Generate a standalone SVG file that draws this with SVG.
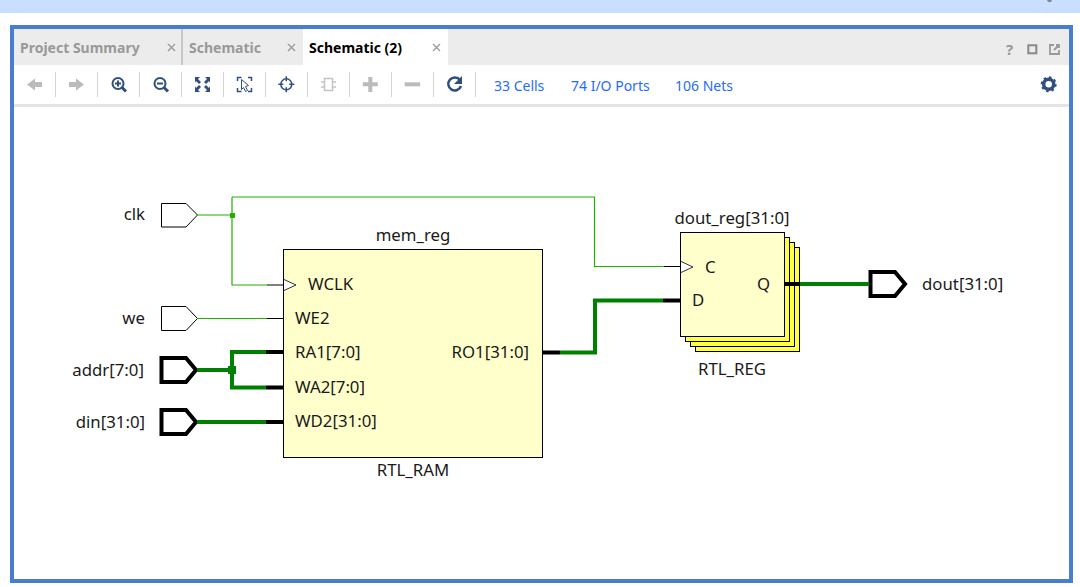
<svg xmlns="http://www.w3.org/2000/svg" width="1080" height="587" viewBox="0 0 1080 587">
<style>
text{font-family:"Noto Sans","Open Sans","Liberation Sans",sans-serif;fill:#1a1a1a;font-size:16.800px}
.tab{font-size:14px;font-weight:700;fill:#999}
.x{stroke:#999;stroke-width:1.300;fill:none}
.sep{stroke:#d4d4d4;stroke-width:1;fill:none}
.link{font-size:14px;fill:#1f6bff}
.ic{fill:none;stroke:#2f4f7f;stroke-width:2}
.dis{fill:#bbb;stroke:none}
.thin{fill:none;stroke:#1fb000;stroke-width:1.200}
.bus{fill:none;stroke:#008000;stroke-width:4}
.pin{fill:none;stroke:#000;stroke-width:1}
.bpin{fill:none;stroke:#000;stroke-width:4}
.port{fill:#fff;stroke:#000;stroke-width:1}
.bport{fill:#fff;stroke:#000;stroke-width:4}
.cell{fill:#ffffcc;stroke:#000;stroke-width:1}
.stack{fill:#ffff44;stroke:#000;stroke-width:1}
.clk{fill:#fff;stroke:#000;stroke-width:.8}
</style>
<rect width="1080" height="587" fill="#fff"/>
<rect width="1080" height="13" fill="#cadeff"/>
<path d="M1047 0h5l-1 2h-3z" fill="#888"/>
<rect x="12" y="27" width="1059" height="554" fill="#fff" stroke="#4a7ccf" stroke-width="4"/>
<g id="tabbar">
<rect x="14" y="29" width="1055" height="36" fill="#ececec"/>
<rect x="181" y="29" width="2" height="36" fill="#c8c8c8"/>
<rect x="303" y="29" width="145" height="36" fill="#fff"/>
<text class="tab" x="20" y="53">Project Summary</text>
<path class="x" d="M168 44l7 7m0-7l-7 7"/>
<text class="tab" x="189" y="53">Schematic</text>
<path class="x" d="M288 44l7 7m0-7l-7 7"/>
<text class="tab" x="309" y="53" style="fill:#000">Schematic (2)</text>
<path class="x" d="M433 44l7 7m0-7l-7 7"/>
<text x="1006" y="55" style="font-size:15px;font-weight:700;fill:#999">?</text>
<rect x="1028.300" y="45.300" width="8" height="8" fill="none" stroke="#888" stroke-width="2"/>
<path d="M1054 45h-4v9h9v-4M1054 50l5-5m-3 0h3v3" fill="none" stroke="#999" stroke-width="1.800"/>
</g>
<g id="toolbar">
<rect x="14" y="104" width="1055" height="3" fill="#e4e4e4"/>
<path class="sep" d="M55.500 72v25M97.500 72v25M139.500 72v25M181.500 72v25M223.500 72v25M265.500 72v25M307.500 72v25M349.500 72v25M391.500 72v25M433.500 72v25M475.500 72v25"/>
<path class="dis" d="M27 84.500l8-6v3.500h7v5h-7v3.500z"/>
<path class="dis" d="M84 84.500l-8-6v3.500h-7v5h7v3.500z"/>
<circle class="ic" cx="118" cy="83.500" r="5.500"/><path class="ic" d="M115 83.500h6M118 80.500v6"/><path d="M122 87.500l4 4" stroke="#2f4f7f" stroke-width="3"/>
<circle class="ic" cx="160" cy="83.500" r="5.500"/><path class="ic" d="M157 83.500h6"/><path d="M164 87.500l4 4" stroke="#2f4f7f" stroke-width="3"/>
<path d="M195 77h5l-2 2 3 3-2 2-3-3-1 2zM210 77h-5l2 2-3 3 2 2 3-3 1 2zM195 92h5l-2-2 3-3-2-2-3 3-1-2zM210 92h-5l2-2-3-3 2-2 3 3 1-2z" fill="#2f4f7f"/>
<path d="M237.500 81v-3.500h4M248 77.500h3.500v3.500M237.500 88v3.500h4M248 91.500h3.500v-3.500" fill="none" stroke="#2f4f7f" stroke-width="1.500"/>
<path d="M241.500 79.500l7 6-3 1 2 4-2 1-2-4-2 2z" fill="#fff" stroke="#2f4f7f"/>
<circle cx="286.300" cy="84.300" r="5.500" fill="none" stroke="#2f4f7f" stroke-width="1.500"/><path d="M286.300 76.300v5M286.300 87.300v5M278.300 84.300h5M289.300 84.300h5" stroke="#2f4f7f" stroke-width="1.500"/>
<rect x="324.500" y="78.500" width="8" height="12" fill="none" stroke="#c4c4c4" stroke-width="1.500"/><path d="M321 82h3.500M321 87h3.500M332.500 82h3.500M332.500 87h3.500" stroke="#c4c4c4" stroke-width="1.500"/>
<path class="dis" d="M368.300 77h4v5.300h5.500v4h-5.500v5.700h-4v-5.700h-5.500v-4h5.500z"/>
<rect class="dis" x="404.700" y="82.300" width="15.500" height="4"/>
<path d="M460 80a6.500 6.500 0 1 0 1 6" fill="none" stroke="#2f4f7f" stroke-width="2.500"/><path d="M462 76v8h-8z" fill="#2f4f7f"/>
<text class="link" x="494" y="90.500">33 Cells</text>
<text class="link" x="571" y="90.500">74 I/O Ports</text>
<text class="link" x="675" y="90.500">106 Nets</text>
<circle cx="1048.700" cy="84.300" r="5" fill="none" stroke="#2f4f7f" stroke-width="3.500"/>
<circle cx="1048.700" cy="84.300" r="7" fill="none" stroke="#2f4f7f" stroke-width="2" stroke-dasharray="2.500 3"/>
</g>
<g id="clk"><text x="145" y="220" text-anchor="end">clk</text><path class="port" d="M161.500 203.500H186L197.500 215L186 227H161.500z"/></g>
<g id="we"><text x="145" y="323.500" text-anchor="end">we</text><path class="port" d="M161.500 306.500H186L197.500 318.500L186 330.500H161.500z"/></g>
<g id="addr"><text x="144" y="376" text-anchor="end">addr[7:0]</text><path class="bport" d="M161.500 358H186L196 370L186 382H161.500z"/></g>
<g id="din"><text x="145" y="428" text-anchor="end">din[31:0]</text><path class="bport" d="M161.500 410H186L196 422L186 434H161.500z"/></g>
<g id="mem_reg">
<rect class="cell" x="283.500" y="249.500" width="259" height="208"/>
<path class="clk" d="M284 279.500L296 285L284 290.500"/>
<text x="413" y="241" text-anchor="middle">mem_reg</text>
<text x="308" y="290">WCLK</text>
<text x="295" y="323.500">WE2</text>
<text x="295" y="358">RA1[7:0]</text>
<text x="295" y="393">WA2[7:0]</text>
<text x="295" y="427">WD2[31:0]</text>
<text x="529" y="358" text-anchor="end">RO1[31:0]</text>
<text x="413" y="476" text-anchor="middle">RTL_RAM</text>
</g>
<g id="dout_reg">
<rect class="stack" x="695.500" y="247.500" width="104" height="104"/>
<rect class="stack" x="690.500" y="242.500" width="104" height="104"/>
<rect class="stack" x="685.500" y="237.500" width="104" height="104"/>
<rect class="cell" x="680.500" y="232.500" width="104" height="104"/>
<path class="clk" d="M681 261.500L693 267L681 272.500"/>
<text x="732" y="224" text-anchor="middle">dout_reg[31:0]</text>
<text x="705" y="273">C</text>
<text x="692" y="306">D</text>
<text x="757" y="290">Q</text>
<text x="732" y="375" text-anchor="middle">RTL_REG</text>
</g>
<g id="dout"><path class="bport" d="M870.500 272H895L905 284L895 296H870.500z"/><text x="922" y="290">dout[31:0]</text></g>
<g id="connectors">
<path class="thin" d="M197 215H232M232 197V285H267M232 197H594.500V266.500H664M197 318.500H267"/>
<rect x="230" y="213" width="5" height="5" fill="#1fb000"/>
<path class="bus" d="M197 370H232M266 352H232V387.500H266M197 422H266"/>
<rect x="228" y="366" width="8" height="8" fill="#008000"/>
<path class="bus" d="M560 352.500H595V300.500H663"/>
<path class="bus" d="M800 284H869"/>
<path class="pin" d="M267 285H284M267 318.500H284M664 266.500H681"/>
<path class="bpin" d="M266 352H284M266 387.500H284M266 422H284M543 352.500H560M663 300.500H681M785 284H800"/>
</g>
</svg>
